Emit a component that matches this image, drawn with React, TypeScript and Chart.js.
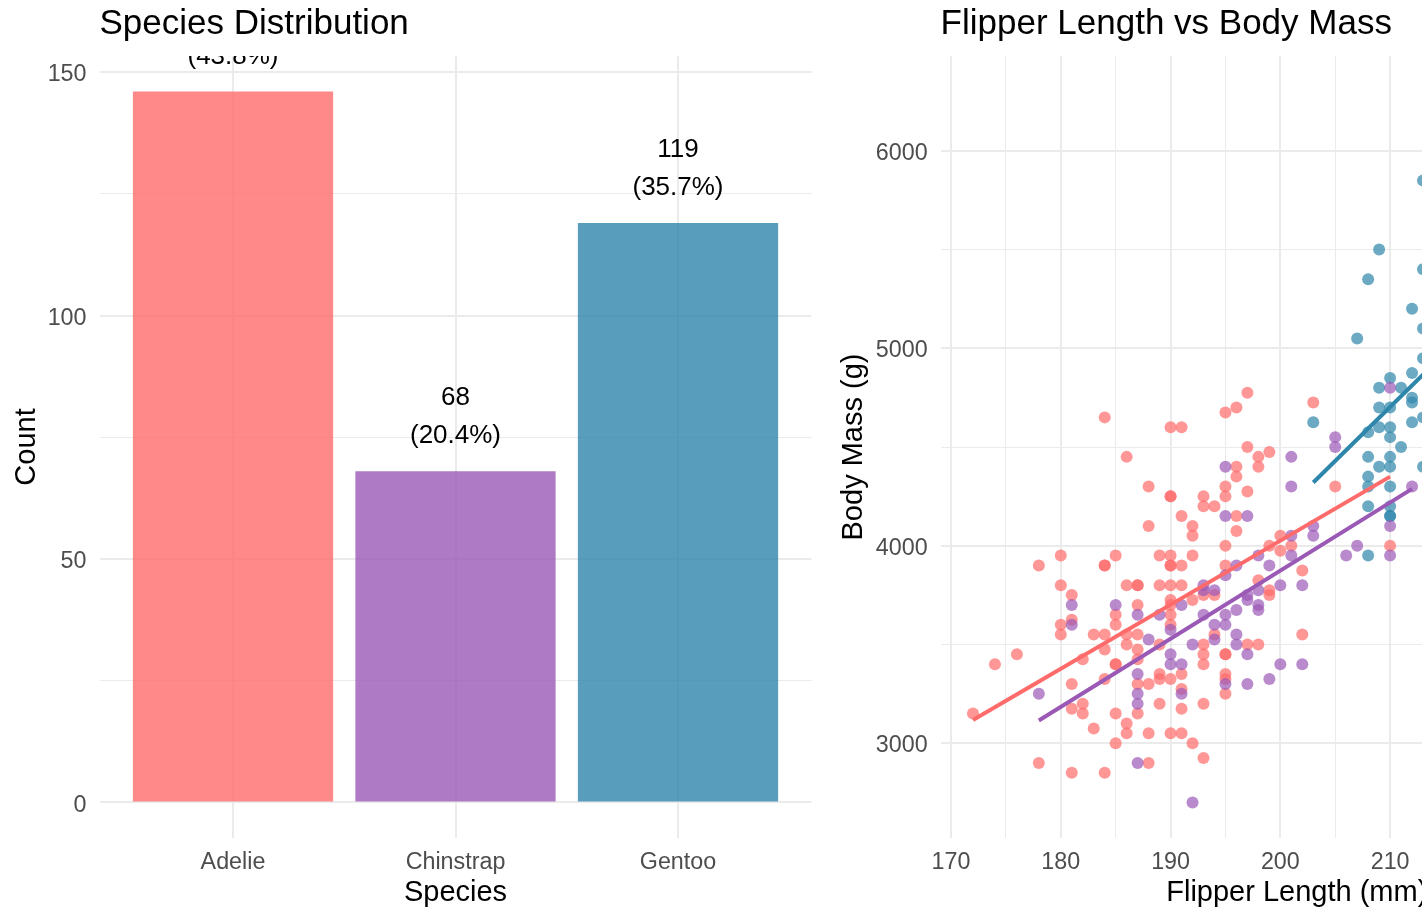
import { useEffect, useRef } from "react";
import { Chart, registerables } from "chart.js";

Chart.register(...registerables);

const FONT = "'Liberation Sans', Arial, Helvetica, sans-serif";

// ---------- Bar chart data ----------
const species = ["Adelie", "Chinstrap", "Gentoo"];
const counts = [146, 68, 119];
const countTicks = [0, 25, 50, 75, 100, 125, 150];
const countLabels = [0, 50, 100, 150];

// ---------- Scatter data (flipper length mm, body mass g) ----------
const adeliePoints: [number, number][] = [
  [172, 3150], [174, 3400], [176, 3450], [178, 3900], [178, 2900],
  [180, 3950], [180, 3800], [180, 3600], [180, 3550],
  [181, 3750], [181, 3625], [181, 3300], [181, 3175], [181, 2850],
  [182, 3425], [182, 3200], [182, 3150], [183, 3550], [183, 3075],
  [184, 4650], [184, 3900], [184, 3900], [184, 3550], [184, 3475], [184, 3325], [184, 2850],
  [185, 3950], [185, 3650], [185, 3600], [185, 3400], [185, 3400], [185, 3150], [185, 3000],
  [186, 4450], [186, 3800], [186, 3550], [186, 3500], [186, 3100], [186, 3050],
  [187, 3800], [187, 3800], [187, 3700], [187, 3550], [187, 3475], [187, 3425], [187, 3300], [187, 3150],
  [188, 4300], [188, 4100], [188, 3300], [188, 3050], [188, 2900],
  [189, 3950], [189, 3800], [189, 3500], [189, 3350], [189, 3325], [189, 3200],
  [190, 4600], [190, 4250], [190, 4250], [190, 3950], [190, 3900], [190, 3900], [190, 3800],
  [190, 3725], [190, 3700], [190, 3650], [190, 3600], [190, 3325], [190, 3050],
  [191, 4600], [191, 4150], [191, 3900], [191, 3800], [191, 3350], [191, 3275], [191, 3175], [191, 3050],
  [192, 4100], [192, 4050], [192, 3950], [192, 3725], [192, 3000],
  [193, 4250], [193, 4200], [193, 3750], [193, 3500], [193, 3450], [193, 3400], [193, 3200], [193, 2925],
  [194, 4200], [194, 3750], [194, 3550],
  [195, 4675], [195, 4300], [195, 4250], [195, 4000], [195, 3900], [195, 3450], [195, 3450],
  [195, 3350], [195, 3325], [195, 3250],
  [196, 4700], [196, 4400], [196, 4350], [196, 4150], [196, 4075],
  [197, 4775], [197, 4500], [197, 4275], [197, 3500],
  [198, 4450], [198, 4400], [198, 3825], [198, 3500],
  [199, 4475], [199, 4000], [199, 3775], [199, 3750],
  [200, 4050], [200, 3975], [201, 4000], [202, 3875], [202, 3550],
  [203, 4725], [205, 4300], [210, 4000],
];

const chinstrapPoints: [number, number][] = [
  [178, 3250], [181, 3700], [181, 3600], [185, 3700],
  [187, 3650], [187, 3350], [187, 3250], [187, 3200], [187, 2900],
  [188, 3525], [189, 3650], [190, 3575], [190, 3450], [190, 3400],
  [191, 3700], [191, 3400], [191, 3250], [192, 3500], [192, 2700],
  [193, 3800], [193, 3775], [193, 3650], [194, 3775], [194, 3600], [194, 3525],
  [195, 4400], [195, 4150], [195, 3850], [195, 3650], [195, 3600], [195, 3300],
  [196, 3900], [196, 3675], [196, 3550], [196, 3500],
  [197, 4150], [197, 3750], [197, 3725], [197, 3450], [197, 3300],
  [198, 3950], [198, 3775], [198, 3700], [198, 3675],
  [199, 3900], [199, 3325], [200, 3800], [200, 3400],
  [201, 4450], [201, 4300], [201, 4050], [201, 3950],
  [202, 3800], [202, 3400], [203, 4100], [203, 4050],
  [205, 4550], [205, 4500], [206, 3950], [207, 4000],
  [210, 4800], [210, 4100], [210, 3950], [212, 4300],
];

const gentooPoints: [number, number][] = [
  [203, 4625], [207, 5050],
  [208, 5350], [208, 4575], [208, 4450], [208, 4350], [208, 4300], [208, 4200], [208, 3950],
  [209, 5500], [209, 4800], [209, 4700], [209, 4600], [209, 4400],
  [210, 4850], [210, 4700], [210, 4600], [210, 4550], [210, 4450], [210, 4400],
  [210, 4300], [210, 4200], [210, 4150], [210, 4150],
  [211, 4800], [211, 4500],
  [212, 5200], [212, 4875], [212, 4750], [212, 4725], [212, 4625],
  [213, 5850], [213, 5400], [213, 5100], [213, 4950], [213, 4650], [213, 4400],
];

// Linear-fit lines (start / end)
const adelieFit: [number, number][] = [[172, 3118], [210, 4350]];
const chinstrapFit: [number, number][] = [[178, 3115], [212, 4288]];
const gentooFit: [number, number][] = [[203, 4320], [231, 5850]];

const flipperTicks = [170, 175, 180, 185, 190, 195, 200, 205, 210, 215, 220, 225, 230];
const flipperLabels = [170, 180, 190, 200, 210, 220, 230];
const massTicks = [3000, 3500, 4000, 4500, 5000, 5500, 6000];
const massLabels = [3000, 4000, 5000, 6000];

// ---------- styles ----------
const COLORS = { adelie: "#FF6B6B", chinstrap: "#9B59B6", gentoo: "#2E86AB" };
const barFill = ["rgba(255,107,107,0.8)", "rgba(155,89,182,0.8)", "rgba(46,134,171,0.8)"];
const GRID = "#EBEBEB";
const TICK_COLOR = "#4D4D4D";
const TICK_SIZE = 23.3;

type TextOpts = {
  title: string;
  xTitle: string;
  yTitle: string;
  yTitleX: number;
  xLabels: { value: number; text: string }[];
  yLabels: { value: number; text: string }[];
};

function textPlugin(o: TextOpts) {
  return {
    id: "panelTexts",
    afterDraw(chart: any) {
      const { ctx, chartArea: a } = chart;
      const xs = chart.scales.x;
      const ys = chart.scales.y;
      ctx.save();
      // tick labels
      ctx.fillStyle = TICK_COLOR;
      ctx.font = `${TICK_SIZE}px ${FONT}`;
      ctx.textBaseline = "alphabetic";
      ctx.textAlign = "right";
      o.yLabels.forEach((l) => {
        const y = ys.getPixelForValue(l.value);
        ctx.fillText(l.text, a.left - 13, y + 9.2);
      });
      ctx.textAlign = "center";
      o.xLabels.forEach((l) => {
        const x = xs.getPixelForValue(l.value);
        ctx.fillText(l.text, x, 868.5);
      });
      // titles
      ctx.fillStyle = "#000000";
      ctx.font = `35px ${FONT}`;
      ctx.textAlign = "left";
      ctx.fillText(o.title, a.left, 34);
      ctx.font = `29px ${FONT}`;
      ctx.textAlign = "center";
      ctx.fillText(o.xTitle, (a.left + a.right) / 2, 901);
      ctx.translate(o.yTitleX, (a.top + a.bottom) / 2);
      ctx.rotate(-Math.PI / 2);
      ctx.fillText(o.yTitle, 0, 0);
      ctx.restore();
    },
  };
}

const barLabelPlugin = {
  id: "barLabels",
  afterDatasetsDraw(chart: any) {
    const { ctx, chartArea: a } = chart;
    const total = counts.reduce((s, v) => s + v, 0);
    const meta = chart.getDatasetMeta(0);
    ctx.save();
    ctx.beginPath();
    ctx.rect(a.left, a.top, a.right - a.left, a.bottom - a.top);
    ctx.clip();
    ctx.fillStyle = "#000000";
    ctx.font = `26px ${FONT}`;
    ctx.textAlign = "center";
    ctx.textBaseline = "alphabetic";
    meta.data.forEach((bar: any, i: number) => {
      const pct = ((counts[i] / total) * 100).toFixed(1);
      ctx.fillText(String(counts[i]), bar.x, bar.y - 66);
      ctx.fillText(`(${pct}%)`, bar.x, bar.y - 28);
    });
    ctx.restore();
  },
};

function gridOpts(isMajor: (v: number) => boolean) {
  return {
    color: GRID,
    drawTicks: false,
    offset: false,
    lineWidth: (c: any) => (c.tick && isMajor(c.tick.value) ? 2 : 1),
  };
}

function BarPanel() {
  const ref = useRef<HTMLCanvasElement | null>(null);
  useEffect(() => {
    if (!ref.current) return;
    const chart = new Chart(ref.current, {
      type: "bar",
      data: {
        datasets: [
          {
            data: species.map((_, i) => ({ x: i + 1, y: counts[i] })) as any,
            backgroundColor: barFill,
            borderWidth: 0,
            barPercentage: 0.9,
            categoryPercentage: 1,
          },
        ],
      },
      options: {
        responsive: false,
        animation: false,
        events: [],
        layout: { padding: { top: 56, right: 18.5, bottom: 0, left: 0 } },
        plugins: { legend: { display: false }, tooltip: { enabled: false }, title: { display: false } },
        scales: {
          x: {
            type: "linear",
            min: 0.4,
            max: 3.6,
            offset: false,
            afterBuildTicks: (s: any) => {
              s.ticks = species.map((_, i) => ({ value: i + 1 }));
            },
            afterFit: (s: any) => {
              s.height = 71;
            },
            ticks: { display: false, autoSkip: false },
            grid: gridOpts(() => true),
            border: { display: false },
          },
          y: {
            type: "linear",
            min: -7.3,
            max: 153.3,
            afterBuildTicks: (s: any) => {
              s.ticks = countTicks.map((v) => ({ value: v }));
            },
            afterFit: (s: any) => {
              s.width = 99.5;
            },
            ticks: { display: false, autoSkip: false },
            grid: gridOpts((v) => countLabels.includes(v)),
            border: { display: false },
          },
        },
      } as any,
      plugins: [
        barLabelPlugin,
        textPlugin({
          title: "Species Distribution",
          xTitle: "Species",
          yTitle: "Count",
          yTitleX: 35,
          xLabels: species.map((s, i) => ({ value: i + 1, text: s })),
          yLabels: countLabels.map((v) => ({ value: v, text: String(v) })),
        }),
      ],
    });
    return () => chart.destroy();
  }, []);
  return (
    <canvas
      ref={ref}
      width={830}
      height={909}
      style={{ position: "absolute", left: 0, top: 0, width: 830, height: 909, display: "block" }}
    />
  );
}

function ScatterPanel() {
  const ref = useRef<HTMLCanvasElement | null>(null);
  useEffect(() => {
    if (!ref.current) return;
    const toXY = (arr: [number, number][]) => arr.map(([x, y]) => ({ x, y }));
    const pts = (arr: [number, number][], color: string, order: number) => ({
      type: "scatter",
      data: toXY(arr),
      backgroundColor: color,
      borderWidth: 0,
      pointRadius: 6,
      pointBorderWidth: 0,
      order,
    });
    const fit = (arr: [number, number][], color: string, order: number) => ({
      type: "line",
      data: toXY(arr),
      borderColor: color,
      borderWidth: 4,
      pointRadius: 0,
      fill: false,
      showLine: true,
      order,
    });
    const chart = new Chart(ref.current, {
      type: "scatter",
      data: {
        datasets: [
          fit(gentooFit, COLORS.gentoo, 0),
          fit(chinstrapFit, COLORS.chinstrap, 1),
          fit(adelieFit, COLORS.adelie, 2),
          pts(chinstrapPoints, "rgba(155,89,182,0.7)", 3),
          pts(gentooPoints, "rgba(46,134,171,0.7)", 4),
          pts(adeliePoints, "rgba(255,107,107,0.7)", 5),
        ] as any,
      },
      options: {
        responsive: false,
        animation: false,
        events: [],
        layout: { padding: { top: 56, right: 20, bottom: 0, left: 0 } },
        plugins: { legend: { display: false }, tooltip: { enabled: false }, title: { display: false } },
        scales: {
          x: {
            type: "linear",
            min: 169.05,
            max: 233.95,
            afterBuildTicks: (s: any) => {
              s.ticks = flipperTicks.map((v) => ({ value: v }));
            },
            afterFit: (s: any) => {
              s.height = 71;
            },
            ticks: { display: false, autoSkip: false },
            grid: gridOpts((v) => flipperLabels.includes(v)),
            border: { display: false },
          },
          y: {
            type: "linear",
            min: 2520,
            max: 6480,
            afterBuildTicks: (s: any) => {
              s.ticks = massTicks.map((v) => ({ value: v }));
            },
            afterFit: (s: any) => {
              s.width = 110.6;
            },
            ticks: { display: false, autoSkip: false },
            grid: gridOpts((v) => massLabels.includes(v)),
            border: { display: false },
          },
        },
      } as any,
      plugins: [
        textPlugin({
          title: "Flipper Length vs Body Mass",
          xTitle: "Flipper Length (mm)",
          yTitle: "Body Mass (g)",
          yTitleX: 32,
          xLabels: flipperLabels.map((v) => ({ value: v, text: String(v) })),
          yLabels: massLabels.map((v) => ({ value: v, text: String(v) })),
        }),
      ],
    });
    return () => chart.destroy();
  }, []);
  return (
    <canvas
      ref={ref}
      width={843}
      height={909}
      style={{ position: "absolute", left: 830, top: 0, width: 843, height: 909, display: "block" }}
    />
  );
}

export default function App() {
  return (
    <div
      style={{
        position: "fixed",
        left: 0,
        top: 0,
        width: 1422,
        height: 909,
        overflow: "hidden",
        background: "#ffffff",
      }}
    >
      <BarPanel />
      <ScatterPanel />
    </div>
  );
}
